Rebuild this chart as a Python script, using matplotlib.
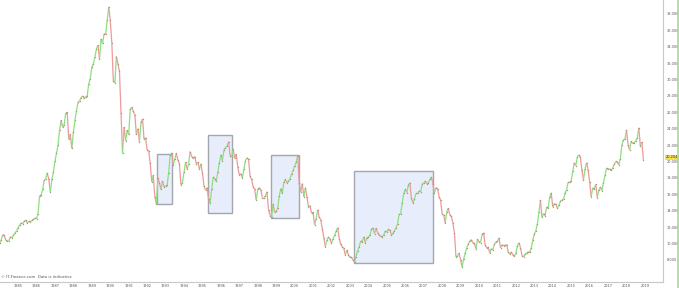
import numpy as np
import matplotlib
matplotlib.use("Agg")
import matplotlib.pyplot as plt
from matplotlib.collections import LineCollection
from matplotlib.patches import Rectangle
from matplotlib.lines import Line2D

# monthly closes, Jan 1984 .. Dec 2018
monthly_close = [
    10050, 10400, 11050, 11000, 10400, 10300, 10350, 10800, 10700, 11000, 11250, 11540,  # 1984
    11900, 12250, 12500, 12400, 12700, 12850, 12500, 12700, 12650, 12800, 12950, 13100,  # 1985
    13000, 13650, 15800, 15900, 16600, 17700, 17900, 18600, 17800, 16300, 17800, 18700,  # 1986
    20000, 21000, 22000, 23800, 25000, 24200, 24500, 25900, 26000, 22700, 23300, 21600,  # 1987
    23600, 25000, 26200, 27200, 27400, 27800, 28000, 27700, 27900, 28000, 29500, 30100,  # 1988
    31500, 31900, 32800, 33700, 34200, 32500, 34900, 34400, 35600, 35500, 37200, 38850,  # 1989
    37200, 34500, 29800, 29600, 32800, 31900, 31000, 25900, 21000, 24200, 22500, 23800,  # 1990
    23300, 26400, 26600, 26100, 25700, 23300, 24000, 22400, 24800, 25200, 22700, 22900,  # 1991
    21400, 21300, 19800, 17500, 18300, 15700, 14800, 18000, 17400, 16600, 17600, 16900,  # 1992
    17000, 17100, 18600, 20800, 21050, 19600, 20300, 21000, 20200, 19700, 17150, 17400,  # 1993
    18700, 19900, 19100, 19700, 21200, 20600, 20400, 20600, 19700, 19900, 19100, 19700,  # 1994
    18600, 17000, 16500, 16800, 15400, 14950, 16600, 18100, 17900, 17600, 18700, 19800,  # 1995
    20800, 20100, 21400, 21700, 21900, 22400, 20700, 20560, 21500, 20400, 20900, 19300,  # 1996
    18370, 18500, 18000, 19100, 20100, 20440, 20300, 18200, 17800, 16900, 16600, 15300,  # 1997
    16600, 16800, 16500, 15600, 15600, 15800, 16300, 14100, 13400, 13240, 14800, 13800,  # 1998
    13900, 14300, 15800, 16700, 16100, 17500, 17800, 17400, 17600, 17900, 18500, 18900,  # 1999
    19500, 19900, 20700, 17400, 16300, 17300, 15700, 16800, 15700, 14460, 14600, 13700,  # 2000
    13800, 12270, 13000, 14100, 13200, 12900, 11800, 10700, 9600, 10400, 10800, 10500,  # 2001
    10000, 10600, 11000, 11500, 11900, 10600, 9900, 9600, 9400, 8600, 9200, 8600,  # 2002
    8300, 8350, 7950, 7750, 8400, 9100, 9600, 10300, 10200, 10800, 10100, 10700,  # 2003
    10800, 11000, 11700, 11900, 11200, 11850, 11300, 11050, 10850, 10800, 11050, 11500,  # 2004
    11400, 11700, 11650, 11000, 11250, 11550, 11900, 12400, 13550, 13600, 14900, 16100,  # 2005
    16600, 16200, 17100, 17400, 15500, 14950, 15400, 16100, 16100, 16400, 16300, 17200,  # 2006
    17400, 17600, 17300, 17400, 17800, 18100, 17300, 16170, 16800, 16700, 15700, 15300,  # 2007
    13600, 13500, 12500, 13800, 14300, 13500, 13300, 12500, 11300, 8370, 8500, 8800,  # 2008
    8000, 7150, 8100, 8800, 9500, 9900, 10300, 10450, 10100, 10000, 9350, 10500,  # 2009
    10200, 10100, 11100, 11300, 9800, 9460, 9550, 8850, 9350, 9200, 9900, 10200,  # 2010
    10250, 10680, 9460, 9850, 9700, 9800, 9850, 8950, 8700, 8950, 8600, 8450,  # 2011
    8800, 9700, 10070, 9500, 8500, 8370, 8700, 8850, 8980, 8900, 9450, 10400,  # 2012
    11150, 11550, 12400, 13850, 15300, 13200, 13650, 13400, 14450, 14300, 15650, 16170,  # 2013
    14460, 14850, 14800, 14300, 14650, 15150, 15300, 15400, 16150, 16540, 17450, 17450,  # 2014
    17650, 18800, 19830, 19500, 20550, 20800, 20550, 18900, 17760, 19100, 19830, 19000,  # 2015
    17500, 15700, 16750, 16650, 17200, 15600, 16550, 16850, 16450, 17400, 18300, 19200,  # 2016
    19050, 19100, 18900, 19200, 19650, 20000, 19950, 19600, 20350, 22000, 22630, 22750,  # 2017
    23850, 22050, 21400, 22450, 22200, 22300, 22550, 22850, 24100, 21900, 22350, 20200,  # 2018
]
first_year = 1984
year_labels = list(range(1985, 2020))
y_ticks = list(range(8000, 40000, 2000))
last_label = "20,204"

# highlighted boxes (start year, end year, low, high)
box_start = [1992.54, 1995.30, 1998.72, 2003.22]
box_end = [1993.35, 1996.60, 2000.24, 2007.50]
box_low = [14830, 13730, 13120, 7640]
box_high = [20930, 23240, 20800, 18850]

close = np.array(monthly_close, dtype=float)
t = first_year + np.arange(len(close)) / 12.0

fig = plt.figure(figsize=(6.79, 2.88), dpi=100)
ax = fig.add_axes([0.0, 0.021, 663 / 679, 0.979])

for x0, x1, lo, hi in zip(box_start, box_end, box_low, box_high):
    ax.add_patch(Rectangle((x0, lo), x1 - x0, hi - lo, facecolor="#e7edfb",
                           edgecolor="#a4a6ad", linewidth=1.0, zorder=1))

pts = np.column_stack([t, close])
segs = np.stack([pts[:-1], pts[1:]], axis=1)
up = close[1:] >= close[:-1]
colors = np.where(up, "#8be080", "#ec9a9a")
lc = LineCollection(segs, colors=colors, linewidths=0.9, zorder=3)
ax.add_collection(lc)
ax.scatter(t, close, s=1.0, color="#b8927a", zorder=4, linewidths=0)

ax.set_xlim(1984.02, 2019.98)
ax.set_ylim(5300, 39700)

ax.set_xticks(year_labels)
ax.set_xticklabels([str(y) for y in year_labels])
ax.set_yticks(y_ticks)
ax.set_yticklabels([f"{v:,}" for v in y_ticks])
ax.yaxis.tick_right()
ax.tick_params(axis="both", labelsize=2.5, colors="#555555", length=0, width=0.4, pad=2.5)
ax.tick_params(axis="x", length=0, pad=1.2)

for side in ["top", "left"]:
    ax.spines[side].set_visible(False)
for side in ["right", "bottom"]:
    ax.spines[side].set_color("#c8c8c8")
    ax.spines[side].set_linewidth(0.8)

ax.text(1.004, close[-1] + 300, last_label, fontsize=2.5, color="#333333",
        va="center", ha="left", clip_on=False, transform=ax.get_yaxis_transform(),
        bbox=dict(boxstyle="square,pad=0.15", facecolor="#f3e04a", edgecolor="none"))

fig.text(0.001, 0.032, "\u00a9 IT-Finance.com  Data is indicative", fontsize=2.8, color="#555555",
         ha="left", va="bottom")

fig.add_artist(Line2D([0.9985, 0.9985], [0, 1], transform=fig.transFigure,
                      color="#a9d98f", linewidth=1.2))

fig.savefig("out.png", dpi=100)
